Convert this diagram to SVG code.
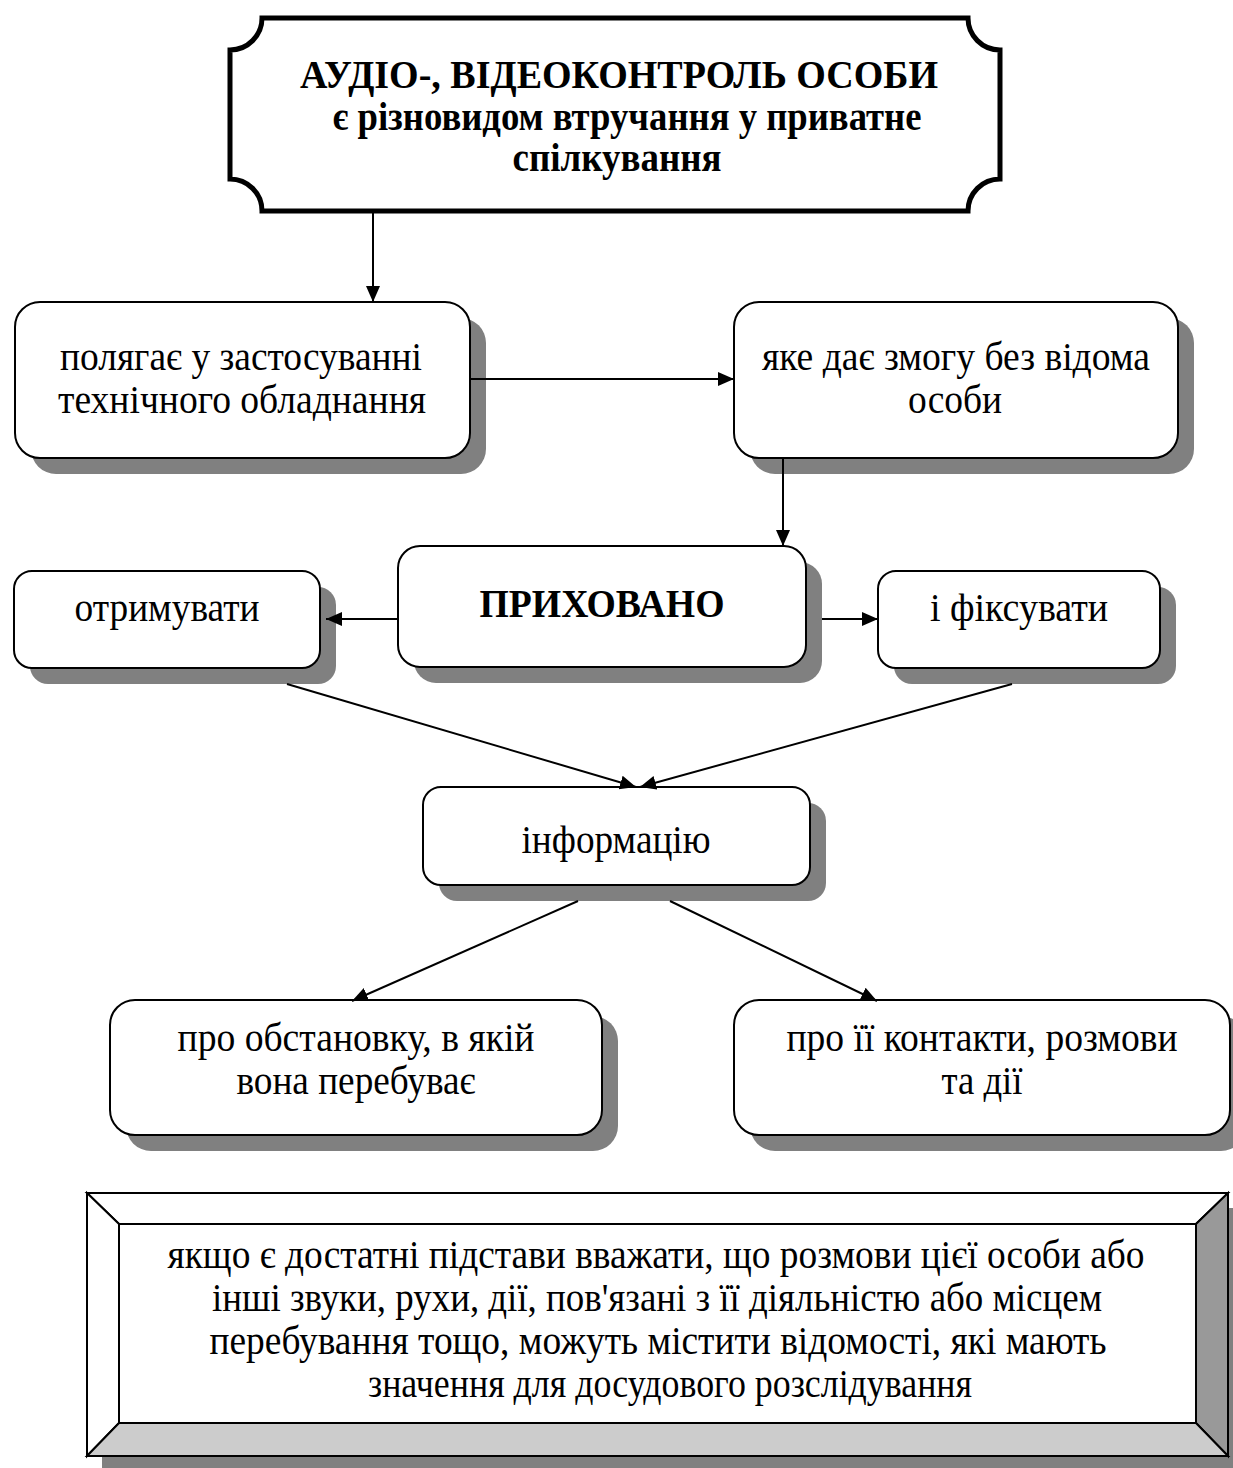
<svg xmlns="http://www.w3.org/2000/svg" width="1233" height="1468" viewBox="0 0 1233 1468">
<defs>
<marker id="ah" markerUnits="userSpaceOnUse" markerWidth="18" markerHeight="16" refX="16" refY="7" orient="auto">
<path d="M0,0 L16,7 L0,14 z" fill="#000"/>
</marker>
</defs>
<style>
.sh{fill:#808080;stroke:none}
.bx{fill:#fff;stroke:#000;stroke-width:2}
.t{font-family:"Liberation Serif","Times New Roman",serif;font-size:40px;fill:#000;text-anchor:middle}
.b{font-weight:bold}
.c{stroke:#000;stroke-width:2;fill:none;marker-end:url(#ah)}
</style>
<rect width="1233" height="1468" fill="#fff"/>

<g id="title">
<path d="M262,18 L968,18 A32,32 0 0 0 1000,50 L1000,179 A32,32 0 0 0 968,211 L262,211 A32,32 0 0 0 230,179 L230,50 A32,32 0 0 0 262,18 Z" fill="#fff" stroke="#000" stroke-width="5"/>
<text class="t b" font-size="38" x="619" y="88" textLength="638" lengthAdjust="spacingAndGlyphs">АУДІО-, ВІДЕОКОНТРОЛЬ ОСОБИ</text>
<text class="t b" font-size="38" x="627" y="130" textLength="589" lengthAdjust="spacingAndGlyphs">є різновидом втручання у приватне</text>
<text class="t b" font-size="38" x="617" y="171" textLength="209" lengthAdjust="spacingAndGlyphs">спілкування</text>
</g>

<g id="n1">
<rect class="sh" x="31" y="318" width="455" height="156" rx="25"/>
<rect class="bx" x="15" y="302" width="455" height="156" rx="25"/>
<text class="t" x="241" y="370" textLength="362" lengthAdjust="spacingAndGlyphs">полягає у застосуванні</text>
<text class="t" x="242" y="413" textLength="368" lengthAdjust="spacingAndGlyphs">технічного обладнання</text>
</g>

<g id="n2">
<rect class="sh" x="750" y="318" width="444" height="156" rx="25"/>
<rect class="bx" x="734" y="302" width="444" height="156" rx="25"/>
<text class="t" x="956" y="370" textLength="388" lengthAdjust="spacingAndGlyphs">яке дає змогу без відома</text>
<text class="t" x="955" y="413" textLength="94" lengthAdjust="spacingAndGlyphs">особи</text>
</g>

<g id="n3">
<rect class="sh" x="414" y="562" width="408" height="121" rx="22"/>
<rect class="bx" x="398" y="546" width="408" height="121" rx="22"/>
<text class="t b" x="602" y="617" textLength="245" lengthAdjust="spacingAndGlyphs">ПРИХОВАНО</text>
</g>

<g id="n4">
<rect class="sh" x="30" y="587" width="306" height="97" rx="18"/>
<rect class="bx" x="14" y="571" width="306" height="97" rx="18"/>
<text class="t" x="167" y="621" textLength="185" lengthAdjust="spacingAndGlyphs">отримувати</text>
</g>

<g id="n5">
<rect class="sh" x="894" y="587" width="282" height="97" rx="18"/>
<rect class="bx" x="878" y="571" width="282" height="97" rx="18"/>
<text class="t" x="1019" y="621" textLength="178" lengthAdjust="spacingAndGlyphs">і фіксувати</text>
</g>

<g id="n6">
<rect class="sh" x="439" y="803" width="387" height="98" rx="18"/>
<rect class="bx" x="423" y="787" width="387" height="98" rx="18"/>
<text class="t" x="616" y="853" textLength="189" lengthAdjust="spacingAndGlyphs">інформацію</text>
</g>

<g id="n7">
<rect class="sh" x="126" y="1016" width="492" height="135" rx="25"/>
<rect class="bx" x="110" y="1000" width="492" height="135" rx="25"/>
<text class="t" x="356" y="1051" textLength="357" lengthAdjust="spacingAndGlyphs">про обстановку, в якій</text>
<text class="t" x="356" y="1094" textLength="239" lengthAdjust="spacingAndGlyphs">вона перебуває</text>
</g>

<g id="n8">
<rect class="sh" x="750" y="1016" width="496" height="135" rx="25"/>
<rect class="bx" x="734" y="1000" width="496" height="135" rx="25"/>
<text class="t" x="982" y="1051" textLength="391" lengthAdjust="spacingAndGlyphs">про її контакти, розмови</text>
<text class="t" x="982" y="1094" textLength="81" lengthAdjust="spacingAndGlyphs">та дії</text>
</g>

<g id="n9">
<rect class="sh" x="102" y="1208" width="1141" height="263"/>
<polygon points="87,1193 1228,1193 1196,1224 119,1224" fill="#fff" stroke="#000" stroke-width="2"/>
<polygon points="87,1193 119,1224 119,1423 87,1456" fill="#fff" stroke="#000" stroke-width="2"/>
<polygon points="1228,1193 1228,1456 1196,1423 1196,1224" fill="#999" stroke="#000" stroke-width="2"/>
<polygon points="87,1456 119,1423 1196,1423 1228,1456" fill="#ccc" stroke="#000" stroke-width="2"/>
<rect x="119" y="1224" width="1077" height="199" fill="#fff" stroke="#000" stroke-width="2"/>
<text class="t" x="656" y="1268" textLength="977" lengthAdjust="spacingAndGlyphs">якщо є достатні підстави вважати, що розмови цієї особи або</text>
<text class="t" x="657" y="1311" textLength="890" lengthAdjust="spacingAndGlyphs">інші звуки, рухи, дії, пов'язані з її діяльністю або місцем</text>
<text class="t" x="658" y="1354" textLength="897" lengthAdjust="spacingAndGlyphs">перебування тощо, можуть містити відомості, які мають</text>
<text class="t" x="670" y="1397" textLength="604" lengthAdjust="spacingAndGlyphs">значення для досудового розслідування</text>
</g>

<g id="connectors">
<line class="c" x1="373" y1="213" x2="373" y2="302"/>
<line class="c" x1="470" y1="379" x2="734" y2="379"/>
<line class="c" x1="783" y1="458" x2="783" y2="546"/>
<line class="c" x1="398" y1="619" x2="326" y2="619"/>
<line class="c" x1="822" y1="619" x2="878" y2="619"/>
<line class="c" x1="287" y1="684" x2="636" y2="787"/>
<line class="c" x1="1012" y1="684" x2="640" y2="787"/>
<line class="c" x1="578" y1="901" x2="352" y2="1001"/>
<line class="c" x1="670" y1="901" x2="877" y2="1001"/>
</g>
</svg>
